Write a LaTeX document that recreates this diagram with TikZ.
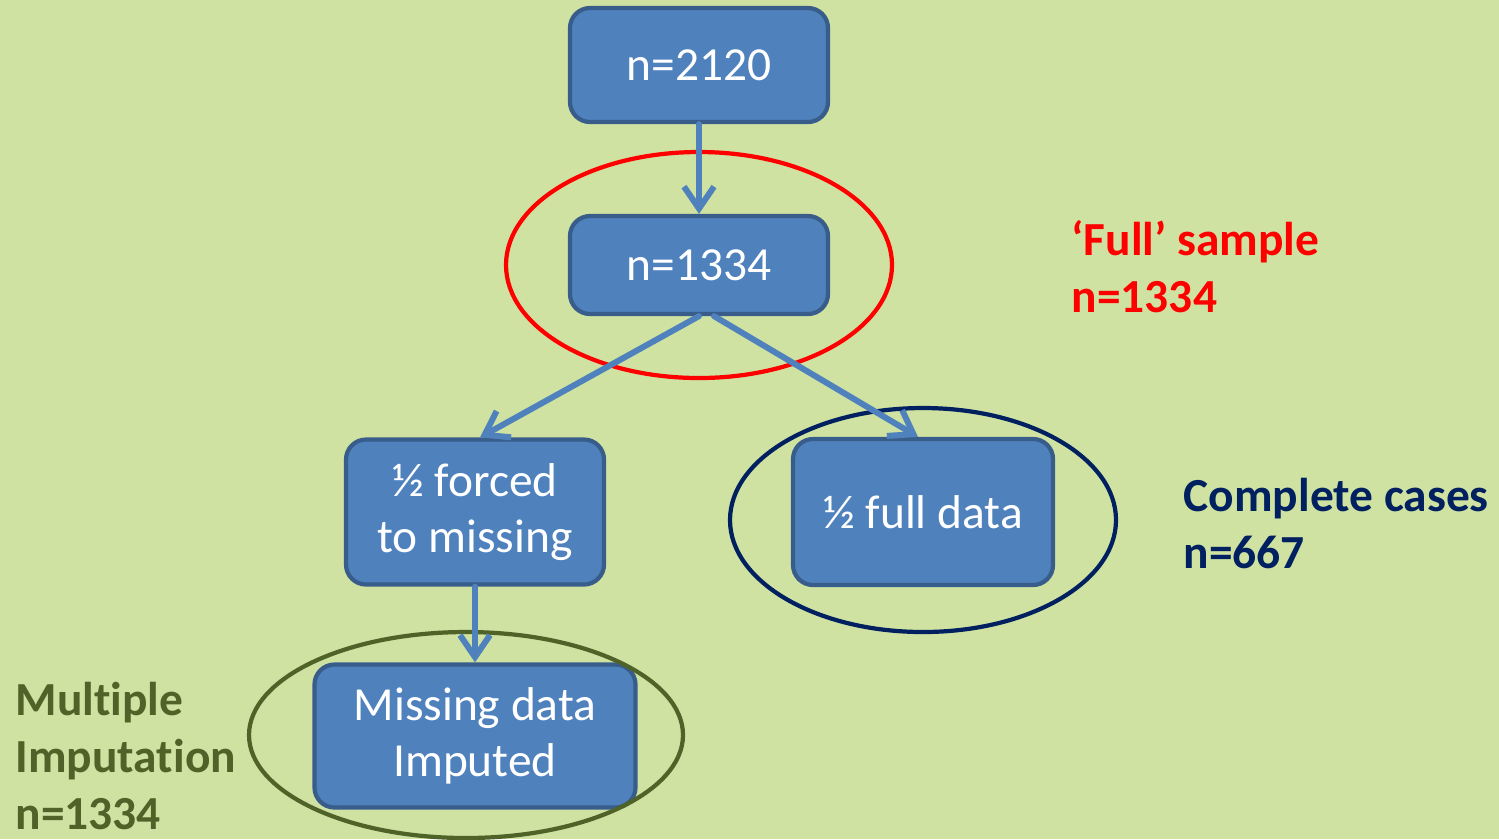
\documentclass[tikz,border=0pt]{standalone}
\usepackage{fontspec}
\setmainfont{Carlito}[Ligatures={TeX,NoCommon}]
\usepackage{xcolor}
\usetikzlibrary{positioning, arrows.meta, calc}

\definecolor{bg}{HTML}{CFE2A2}
\definecolor{boxblue}{HTML}{4F81BD}
\definecolor{boxedge}{HTML}{385D8A}
\definecolor{navy}{HTML}{002060}
\definecolor{olive}{HTML}{4F6228}

\begin{document}
\begin{tikzpicture}[box/.style={draw=boxedge, line width=1.2pt, fill=boxblue, rounded corners=0.2cm, text=white, align=center, inner sep=0pt, font=\fontsize{13.5}{16}\selectfont}, link/.style={-{Straight Barb[length=2.2mm, width=3mm]}, line width=1.7pt, boxblue, line cap=round}, ring/.style={line width=1.2pt}, lbl/.style={anchor=base west, align=left, inner sep=0pt, font=\fontsize{13.5}{16.2}\selectfont\bfseries}, node distance=2cm]
    % Fond
    \fill[bg] (0,0) rectangle (14.99,-8.39);
    \useasboundingbox (0,0) rectangle (14.99,-8.39);

    % Noeuds
    \node[box, minimum width=2.58cm, minimum height=1.14cm] (n2120) at (6.99,-0.65) {n=2120};
    \node[box, minimum width=2.58cm, minimum height=0.98cm] (n1334) [below of=n2120] {n=1334};
    \node[box, minimum width=2.58cm, minimum height=1.45cm] (forced) at (4.75,-5.12) {½ forced\\to missing};
    \node[box, minimum width=2.60cm, minimum height=1.46cm] (full) [right of=forced, node distance=4.48cm] {½ full data};
    \node[box, minimum width=3.21cm, minimum height=1.43cm] (imputed) [below of=forced, node distance=2.24cm] {Missing data\\Imputed};

    % Ellipses
    \draw[ring, red] (n1334.center) ellipse [x radius=1.93, y radius=1.13];
    \draw[ring, navy] ($(full.center)+(0,-0.08)$) ellipse [x radius=1.93, y radius=1.12];
    \draw[ring, olive] ($(imputed.center)+(-0.09,0.01)$) ellipse [x radius=2.17, y radius=1.03];

    % Flèches
    \draw[link] (n2120.south) -- (n1334.north);
    \draw[link] (n1334.south) -- ([xshift=0.05cm]forced.north);
    \draw[link] ([xshift=0.15cm]n1334.south) -- ([xshift=-0.05cm]full.north);
    \draw[link] (forced.south) -- (imputed.north);

    % Légendes (ancre sur la dernière ligne)
    \node[lbl, red] (fulllbl) at (10.71,-3.12) {‘Full’ sample\\n=1334};
    \node[lbl, navy] (cclbl) at (11.83,-5.68) {Complete cases\\n=667};
    \node[lbl, olive] (milbl) at (0.15,-8.29) {Multiple\\Imputation\\n=1334};
\end{tikzpicture}
\end{document}
